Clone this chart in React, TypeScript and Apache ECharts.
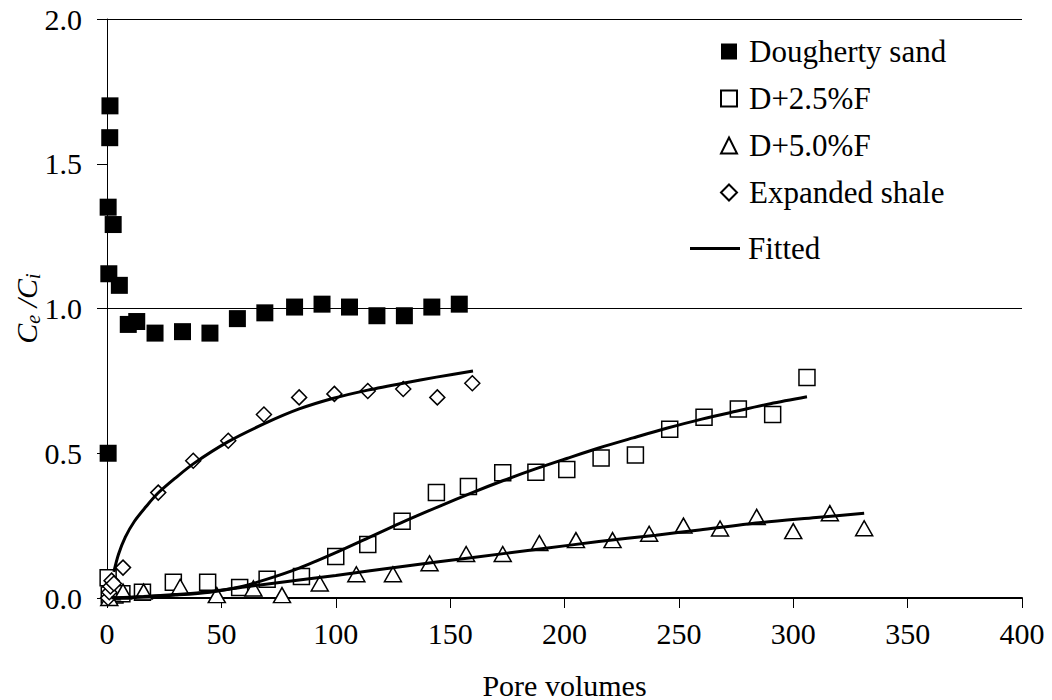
import React, { useEffect, useRef } from "react";
import * as echarts from "echarts";

const doughertySand: number[][] = [
  [0.5, 0.5], [0.8, 1.12], [0.5, 1.35], [1.2, 1.59], [1.3, 1.7], [2.7, 1.29], [5.4, 1.08],
  [9.3, 0.945], [13, 0.955], [21, 0.915], [33, 0.92], [45, 0.915], [57, 0.965], [69, 0.985],
  [82, 1.005], [94, 1.015], [106, 1.005], [118, 0.975], [130, 0.975], [142, 1.005], [154, 1.015],
];

const d25F: number[][] = [
  [0.5, 0.07], [1, 0.01], [3.5, 0.01], [6.5, 0.015], [15.5, 0.02], [29, 0.054], [44, 0.054],
  [58, 0.036], [70, 0.065], [85, 0.074], [100, 0.143], [114, 0.185], [129, 0.265], [144, 0.364],
  [158, 0.385], [173, 0.433], [187.5, 0.434], [201, 0.444], [216, 0.484], [231, 0.494],
  [246, 0.583], [261, 0.624], [276, 0.653], [291, 0.634], [306, 0.762],
];

const d50F: number[][] = [
  [1, 0.0], [2, 0.02], [7, 0.022], [16, 0.022], [32, 0.039], [48, 0.01], [64, 0.033],
  [76.5, 0.01], [93, 0.05], [109, 0.082], [125, 0.082], [141, 0.12], [157, 0.152], [173, 0.152],
  [189, 0.19], [205, 0.2], [221, 0.2], [237, 0.222], [252, 0.25], [268, 0.24], [284, 0.28],
  [300, 0.231], [316, 0.293], [331, 0.241],
];

const expandedShale: number[][] = [
  [0.5, 0.0], [1, 0.02], [1.5, 0.04], [2, 0.06], [3, 0.05], [7, 0.105], [22.4, 0.364],
  [37.7, 0.474], [53, 0.543], [68.6, 0.634], [84, 0.693], [99.4, 0.705], [114, 0.715],
  [129.5, 0.722], [144.4, 0.693], [159.7, 0.742],
];

const fitShale: number[][] = [
  [3, 0.09], [5, 0.15], [8, 0.21], [12, 0.265], [17, 0.315], [22, 0.36], [30, 0.415],
  [38, 0.465], [53, 0.54], [69, 0.603], [84, 0.653], [99, 0.69], [114, 0.718], [130, 0.743],
  [144, 0.763], [160, 0.784],
];

const fitD25: number[][] = [
  [2, 0.0], [16, 0.004], [30, 0.01], [45, 0.02], [58, 0.038], [70, 0.065], [84, 0.103],
  [99, 0.153], [114, 0.207], [128, 0.258], [145, 0.316], [160, 0.365], [173, 0.405],
  [187, 0.445], [201, 0.482], [215, 0.518], [230, 0.553], [245, 0.587], [260, 0.618],
  [275, 0.645], [290, 0.671], [306, 0.695],
];

const fitD50: number[][] = [
  [2, 0.0], [16, 0.005], [30, 0.012], [45, 0.022], [60, 0.038], [84, 0.062], [100, 0.078],
  [130, 0.11], [160, 0.14], [190, 0.17], [215, 0.195], [240, 0.217], [259, 0.235],
  [285, 0.26], [310, 0.278], [331, 0.293],
];

const xTicks: number[] = [0, 50, 100, 150, 200, 250, 300, 350, 400];
const yTicks: string[] = ["0.0", "0.5", "1.0", "1.5", "2.0"];

const scatterNames = ["Dougherty sand", "D+2.5%F", "D+5.0%F", "Expanded shale"];
const fitName = "Fitted";

const FONT = "Times New Roman, Liberation Serif, serif";

export default function App() {
  const ref = useRef<HTMLDivElement>(null);
  useEffect(() => {
    document.body.style.margin = "0";
    if (!ref.current) return;
    const chart = echarts.init(ref.current, undefined, { renderer: "svg" });
    const openStyle = { color: "#ffffff", borderColor: "#000000", borderWidth: 1.5, opacity: 1 };
    const lineCommon = {
      type: "line" as const,
      name: fitName,
      smooth: 0.3,
      symbol: "none",
      showSymbol: false,
      lineStyle: { color: "#000000", width: 3 },
      itemStyle: { color: "#000000" },
      z: 5,
    };
    const txt = { fontFamily: FONT, fontSize: 30, color: "#000000", fontWeight: "normal" as const };
    const legTxt = { ...txt, fontSize: 31 };
    chart.setOption({
      animation: false,
      backgroundColor: "#ffffff",
      textStyle: { fontFamily: FONT, color: "#000000" },
      grid: {
        left: 107,
        right: 30,
        top: 19,
        bottom: 102,
        containLabel: false,
        outerBoundsMode: "none",
      },
      legend: [
        {
          data: scatterNames,
          orient: "vertical",
          left: 715,
          top: 31,
          itemWidth: 16,
          itemHeight: 16,
          itemGap: 16,
          textStyle: { ...legTxt, padding: [0, 0, 0, 7] },
        },
        {
          data: [{ name: fitName, icon: "rect" }],
          orient: "vertical",
          left: 685,
          top: 228,
          itemWidth: 50,
          itemHeight: 3,
          itemStyle: { color: "#000000", borderWidth: 0 },
          textStyle: { ...legTxt, padding: [0, 0, 0, 3] },
        },
      ],
      xAxis: {
        type: "value",
        min: 0,
        max: 400,
        interval: 50,
        name: "Pore volumes",
        nameLocation: "middle",
        nameGap: 72,
        nameMoveOverlap: false,
        nameTextStyle: txt,
        axisLine: { show: true, onZero: false, lineStyle: { color: "#000000", width: 2 } },
        axisTick: { show: true, inside: false, length: 10, lineStyle: { color: "#000000", width: 1 } },
        axisLabel: {
          ...txt,
          margin: 20,
          formatter: (v: number) => String(xTicks[xTicks.indexOf(v)] ?? v),
        },
        splitLine: { show: false },
      },
      yAxis: [
        {
          type: "value",
          min: 0,
          max: 2,
          interval: 0.5,
          name: "{i|C}{s|e}{i| /C}{s|i}",
          nameLocation: "middle",
          nameRotate: 90,
          nameGap: 64,
          nameMoveOverlap: false,
          nameTextStyle: {
            fontFamily: FONT,
            color: "#000000",
            rich: {
              i: { fontFamily: FONT, fontSize: 30, fontStyle: "italic", color: "#000000", lineHeight: 34 },
              s: {
                fontFamily: FONT,
                fontSize: 20,
                fontStyle: "italic",
                color: "#000000",
                verticalAlign: "bottom",
                lineHeight: 34,
              },
            },
          },
          axisLine: { show: true, lineStyle: { color: "#000000", width: 1 } },
          axisTick: { show: true, inside: false, length: 10, lineStyle: { color: "#000000", width: 1 } },
          axisLabel: {
            ...txt,
            margin: 25,
            formatter: (v: number) => yTicks[Math.round(v / 0.5)] ?? v.toFixed(1),
          },
          splitLine: { show: false },
        },
        {
          type: "value",
          min: 0,
          max: 2,
          interval: 1,
          position: "left",
          axisLine: { show: false },
          axisTick: { show: false },
          axisLabel: { show: false },
          splitLine: { show: true, lineStyle: { color: "#000000", width: 1 } },
        },
      ],
      series: [
        {
          type: "scatter",
          name: scatterNames[0],
          data: doughertySand,
          symbol: "rect",
          symbolSize: 17,
          itemStyle: { color: "#000000", borderColor: "#000000", borderWidth: 0, opacity: 1 },
          z: 3,
        },
        {
          type: "scatter",
          name: scatterNames[1],
          data: d25F,
          symbol: "rect",
          symbolSize: 16,
          itemStyle: openStyle,
          z: 3,
        },
        {
          type: "scatter",
          name: scatterNames[2],
          data: d50F,
          symbol: "triangle",
          symbolSize: [17, 15],
          itemStyle: openStyle,
          z: 3,
        },
        {
          type: "scatter",
          name: scatterNames[3],
          data: expandedShale,
          symbol: "diamond",
          symbolSize: 15,
          itemStyle: openStyle,
          z: 3,
        },
        { ...lineCommon, data: fitShale },
        { ...lineCommon, data: fitD25 },
        { ...lineCommon, data: fitD50 },
      ],
    });
    return () => chart.dispose();
  }, []);
  return <div ref={ref} style={{ width: 1052, height: 700 }} />;
}
